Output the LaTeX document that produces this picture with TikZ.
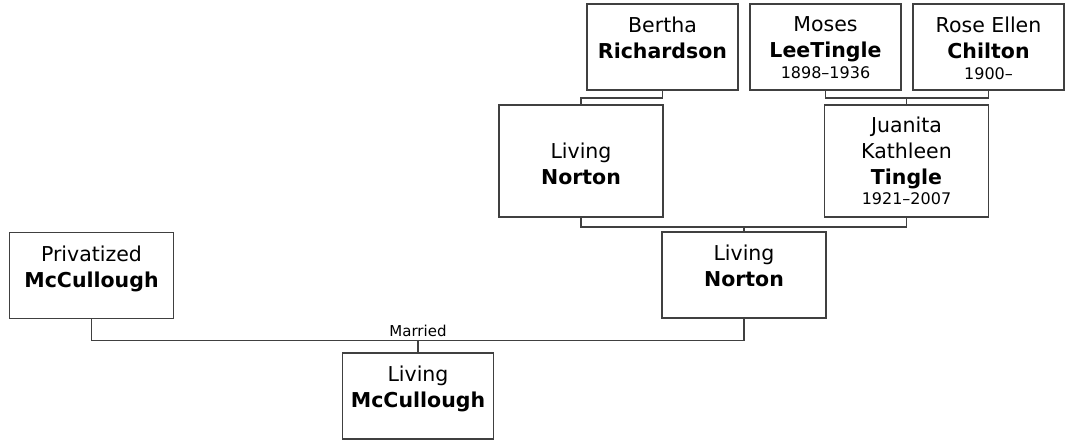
\documentclass[tikz,border=0pt]{standalone}
\usepackage{fontspec}
\setmainfont{DejaVu Sans}
\usetikzlibrary{positioning}
\definecolor{line-gray}{RGB}{64,64,64}
\newcommand\datefont{\fontsize{16}{26}\selectfont}

\begin{document}
\begin{tikzpicture}[
  x=1pt, y=-1pt,
  every node/.style = {font=\fontsize{20.5}{26}\selectfont},
  % Box styles
  personbox/.style  = {draw=line-gray, line width=1.5pt, minimum width=151pt,
                       minimum height=86pt, inner sep=0pt},
  widebox/.style    = {personbox, minimum width=164pt},
  tallbox/.style    = {widebox, minimum height=112pt},
  nametext/.style   = {align=center, inner sep=0pt},
  % Line styles
  famline/.style    = {draw=line-gray, line width=1.5pt},
  marrylabel/.style = {font=\fontsize{15}{18}\selectfont, inner sep=2.5pt},
]
\useasboundingbox (0,0) rectangle (1066,440);

% ── Great-grandparents ─────────────────────────────────────────────────────────
\node[personbox] (bertha) at (662.5,47) {};
\node[nametext, below=13.5pt of bertha.north] (bertha-txt)
  {Bertha\\\textbf{Richardson}};

\node[personbox] (moses) at (825.5,47) {};
\node[nametext, below=13.5pt of moses.north] (moses-txt)
  {Moses\\\textbf{LeeTingle}\\[-5pt]{\datefont 1898–1936}};

\node[personbox] (rose) at (988.5,47) {};
\node[nametext, below=13.5pt of rose.north] (rose-txt)
  {Rose Ellen\\\textbf{Chilton}\\[-5pt]{\datefont 1900–}};

% ── Grandparents ───────────────────────────────────────────────────────────────
\node[tallbox] (nortonA) at (581,161) {};
\node[nametext, below=38.5pt of nortonA.north] (nortonA-txt)
  {Living\\\textbf{Norton}};

\node[tallbox] (juanita) at (906.5,161) {};
\node[nametext, below=12.5pt of juanita.north] (juanita-txt)
  {Juanita\\Kathleen\\\textbf{Tingle}\\[-6pt]{\datefont 1921–2007}};

% ── Parents ────────────────────────────────────────────────────────────────────
\node[widebox] (privatized) at (91.5,275.5) {};
\node[nametext, below=13.5pt of privatized.north] (privatized-txt)
  {Privatized\\\textbf{McCullough}};

\node[widebox] (nortonB) at (744,275) {};
\node[nametext, below=13.5pt of nortonB.north] (nortonB-txt)
  {Living\\\textbf{Norton}};

% ── Child ──────────────────────────────────────────────────────────────────────
\node[personbox] (livingMc) at (418,396) {};
\node[nametext, below=13.5pt of livingMc.north] (livingMc-txt)
  {Living\\\textbf{McCullough}};

% ── Family lines ───────────────────────────────────────────────────────────────
\draw[famline] (bertha.south) -- ++(0,7) -| (nortonA.north);

\draw[famline] (moses.south) -- ++(0,7) coordinate (tingle-bar) -| (rose.south);
\draw[famline] (juanita.north) -- (juanita.north |- tingle-bar);

\draw[famline] (nortonA.south) -- ++(0,9) coordinate (norton-bar) -| (juanita.south);
\draw[famline] (nortonB.north) -- (nortonB.north |- norton-bar);

\draw[famline] (privatized.south) -- ++(0,21) coordinate (married-bar) -| (nortonB.south);
\draw[famline] (livingMc.north) -- (livingMc.north |- married-bar)
  node[marrylabel, above] (married) {Married};

\end{tikzpicture}
\end{document}
